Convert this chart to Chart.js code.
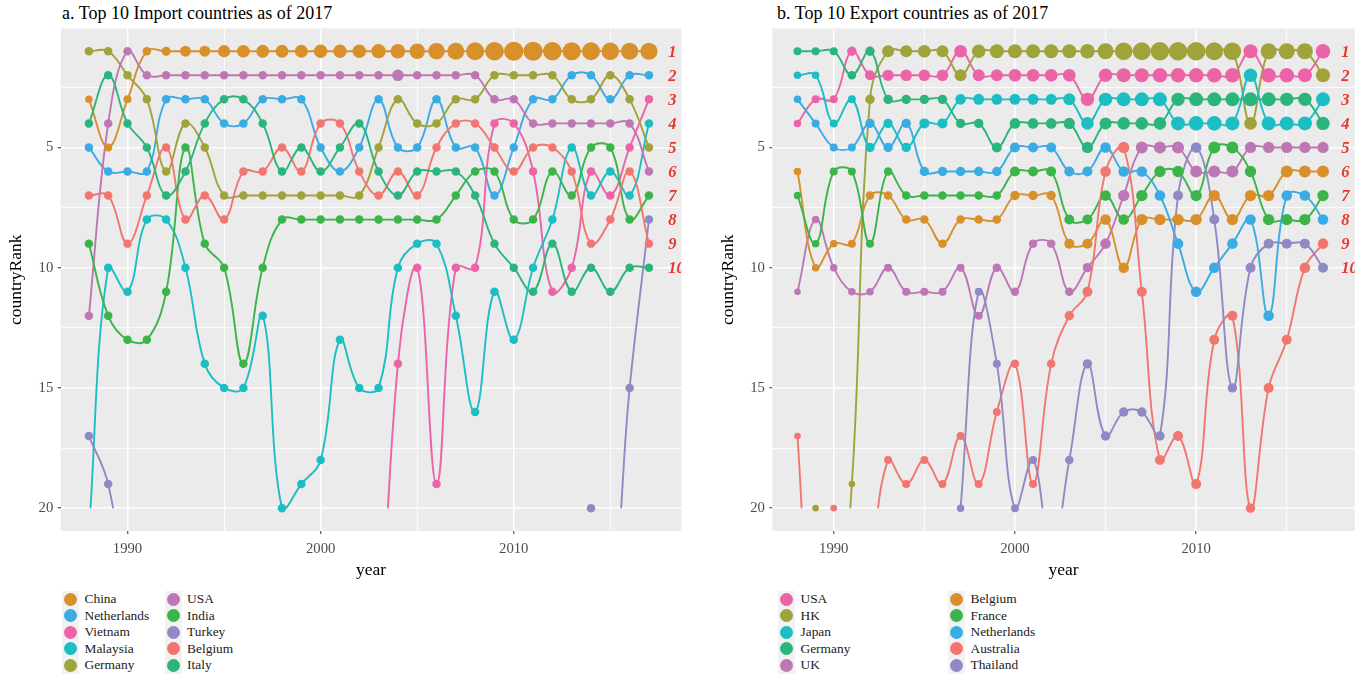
<!DOCTYPE html>
<html>
<head>
<meta charset="utf-8">
<title>Top 10 import and export countries</title>
<script src="https://cdn.jsdelivr.net/npm/chart.js@4.4.1/dist/chart.umd.min.js"></script>
<style>
  html, body { margin: 0; padding: 0; background: #ffffff; }
  body { position: relative; width: 1362px; height: 679px; overflow: hidden;
         font-family: "Liberation Serif", "Times New Roman", serif; }
  canvas { position: absolute; top: 0; }
  .title { position: absolute; top: 4px; font-size: 18px; line-height: 18px; color: #000; white-space: nowrap; }
  .key { position: absolute; width: 17px; height: 17px; background: #F2F2F2; }
  .key span { position: absolute; left: 2px; top: 2px; width: 13px; height: 13px; border-radius: 50%; }
  .lab { position: absolute; height: 18px; line-height: 18px; font-size: 13.4px; color: #1a1a1a; white-space: nowrap; }
</style>
</head>
<body>
<div class="title" style="left:62px">a. Top 10 Import countries as of 2017</div>
<div class="title" style="left:777px">b. Top 10 Export countries as of 2017</div>
<canvas id="imports" width="690" height="590" style="left:0"></canvas>
<canvas id="exports" width="650" height="590" style="left:712px"></canvas>
<div id="legendImports"></div>
<div id="legendExports"></div>

<script>
// ---------- data ----------
const years = [1988, 1989, 1990, 1991, 1992, 1993, 1994, 1995, 1996, 1997,
               1998, 1999, 2000, 2001, 2002, 2003, 2004, 2005, 2006, 2007,
               2008, 2009, 2010, 2011, 2012, 2013, 2014, 2015, 2016, 2017];
const rankTicks = [5, 10, 15, 20];
const yearTicks = [1990, 2000, 2010];
const rankLabels = ['1', '2', '3', '4', '5', '6', '7', '8', '9', '10'];

// import partners: yearly rank (null = far outside the top 20)
const impChina       = [3, 5, 3, 1, 1, 1, 1, 1, 1, 1, 1, 1, 1, 1, 1, 1, 1, 1, 1, 1, 1, 1, 1, 1, 1, 1, 1, 1, 1, 1];
const impNetherlands = [5, 6, 6, 6, 3, 3, 3, 4, 4, 3, 3, 3, 5, 6, 5, 3, 5, 5, 3, 5, 5, 7, 5, 3, 3, 2, 2, 3, 2, 2];
const impVietnam     = [null, null, null, null, null, null, null, null, null, null, null, null, null, null, null,
                        28, 14, 10, 19, 10, 10, 4, 4, 6, 11, 10, 6, 7, 5, 3];
const impMalaysia    = [21, 10, 11, 8, 8, 10, 14, 15, 15, 12, 20, 19, 18, 13, 15, 15, 10, 9, 9, 12, 16, 11, 13, 10, 8, 5, 7, 6, 7, 4];
const impGermany     = [1, 1, 2, 3, 6, 4, 5, 7, 7, 7, 7, 7, 7, 7, 7, 5, 3, 4, 4, 3, 3, 2, 2, 2, 2, 3, 3, 2, 3, 5];
const impUSA         = [12, 4, 1, 2, 2, 2, 2, 2, 2, 2, 2, 2, 2, 2, 2, 2, 2, 2, 2, 2, 2, 3, 3, 4, 4, 4, 4, 4, 4, 6];
const impIndia       = [9, 12, 13, 13, 11, 5, 9, 10, 14, 10, 8, 8, 8, 8, 8, 8, 8, 8, 8, 7, 6, 6, 8, 8, 6, 7, 5, 5, 8, 7];
const impTurkey      = [17, 19, 24, null, null, null, null, null, null, null, null, null, null, null, null,
                        null, null, null, null, null, null, null, null, null, null, 24, 20, 24, 15, 8];
const impBelgium     = [7, 7, 9, 7, 5, 8, 7, 8, 6, 6, 5, 6, 4, 4, 6, 7, 6, 7, 5, 4, 4, 5, 6, 5, 5, 6, 9, 8, 6, 9];
const impItaly       = [4, 2, 4, 5, 7, 6, 4, 3, 3, 4, 6, 5, 6, 5, 4, 6, 7, 6, 6, 6, 7, 9, 10, 11, 9, 11, 10, 11, 10, 10];

// import trade value index (drives point area)
const impChinaValue  = [14, 16, 16, 18, 20, 30, 30, 38, 40, 41, 41, 42, 45, 44, 46, 52, 53, 61, 69, 72, 81, 86, 92, 92, 86, 83, 81, 76, 74, 74];
const impUSAValue    = [18, 18, 18, 18, 18, 18, 18, 18, 18, 18, 18, 18, 18, 18, 18, 18, 34, 18, 18, 18, 18, 18, 18, 18, 18, 18, 18, 18, 18, 18];
const impOtherValue  = 18;

// export partners: yearly rank
const expUSA         = [4, 3, 3, 1, 2, 2, 2, 2, 2, 1, 2, 2, 2, 2, 2, 2, 3, 2, 2, 2, 2, 2, 2, 2, 2, 1, 2, 2, 2, 1];
const expHK          = [26, 20, 26, 19, 3, 1, 1, 1, 1, 2, 1, 1, 1, 1, 1, 1, 1, 1, 1, 1, 1, 1, 1, 1, 1, 4, 1, 1, 1, 2];
const expJapan       = [2, 2, 4, 3, 5, 4, 5, 4, 4, 3, 3, 3, 3, 3, 3, 3, 4, 3, 3, 3, 3, 4, 4, 4, 4, 2, 4, 4, 4, 3];
const expGermany     = [1, 1, 1, 2, 1, 3, 3, 3, 3, 4, 4, 5, 4, 4, 4, 4, 5, 4, 4, 4, 4, 3, 3, 3, 3, 3, 3, 3, 3, 4];
const expUK          = [11, 8, 10, 11, 11, 10, 11, 11, 11, 10, 12, 10, 11, 9, 9, 11, 10, 9, 7, 5, 5, 5, 6, 6, 6, 5, 5, 5, 5, 5];
const expBelgium     = [6, 10, 9, 9, 7, 7, 8, 8, 9, 8, 8, 8, 7, 7, 7, 9, 9, 8, 10, 8, 8, 8, 8, 7, 8, 7, 7, 6, 6, 6];
const expFrance      = [7, 9, 6, 6, 9, 6, 7, 7, 7, 7, 7, 7, 6, 6, 6, 8, 8, 7, 8, 7, 6, 6, 7, 5, 5, 6, 8, 8, 8, 7];
const expNetherlands = [3, 4, 5, 5, 4, 5, 4, 6, 6, 6, 6, 6, 5, 5, 5, 6, 6, 5, 6, 6, 7, 9, 11, 10, 9, 8, 12, 7, 7, 8];
const expAustralia   = [17, 28, 20, 28, 23, 18, 19, 18, 19, 17, 19, 16, 14, 19, 14, 12, 11, 6, 5, 11, 18, 17, 19, 13, 12, 20, 15, 13, 10, 9];
const expThailand    = [null, null, null, null, null, null, null, null, null,
                        20, 11, 14, 20, 18, 22, 18, 14, 17, 16, 16, 17, 7, 5, 8, 15, 10, 9, 9, 9, 10];

// export trade value index (drives point area)
const expUSAValue         = [14, 16, 16, 22, 25, 32, 34, 34, 34, 40, 36, 36, 40, 40, 40, 40, 45, 45, 49, 49, 53, 53, 53, 53, 53, 49, 53, 53, 49, 53];
const expHKValue          = [11, 11, 11, 11, 22, 36, 36, 40, 36, 36, 45, 49, 49, 49, 49, 49, 53, 64, 76, 81, 86, 86, 86, 81, 76, 40, 64, 64, 64, 49];
const expJapanValue       = [14, 14, 16, 16, 22, 22, 22, 25, 25, 28, 30, 30, 30, 30, 30, 36, 40, 45, 49, 49, 49, 49, 53, 53, 49, 45, 49, 49, 49, 49];
const expGermanyValue     = [16, 16, 16, 18, 22, 22, 22, 22, 22, 22, 22, 25, 28, 28, 28, 32, 32, 36, 40, 40, 40, 45, 49, 49, 49, 49, 49, 45, 45, 45];
const expUKValue          = [11, 14, 14, 14, 14, 16, 16, 16, 16, 16, 16, 18, 18, 18, 18, 18, 22, 28, 32, 36, 36, 36, 36, 36, 36, 32, 32, 32, 32, 32];
const expBelgiumValue     = [14, 14, 14, 16, 18, 18, 18, 18, 18, 18, 18, 18, 22, 22, 22, 25, 25, 28, 28, 32, 32, 32, 32, 32, 32, 32, 32, 36, 36, 36];
const expFranceValue      = [14, 14, 16, 16, 16, 18, 18, 18, 18, 18, 18, 18, 25, 25, 25, 25, 25, 28, 28, 32, 32, 32, 32, 36, 36, 32, 32, 32, 32, 32];
const expNetherlandsValue = [14, 16, 16, 16, 22, 22, 22, 22, 22, 22, 22, 22, 25, 25, 25, 25, 25, 28, 28, 28, 28, 28, 28, 28, 28, 28, 28, 28, 28, 28];
const expAustraliaValue   = [11, 11, 11, 11, 11, 16, 16, 16, 16, 16, 16, 16, 18, 16, 18, 22, 25, 28, 32, 25, 25, 25, 25, 25, 25, 22, 25, 25, 28, 28];
const expThailandValue    = [null, null, null, null, null, null, null, null, null,
                             14, 16, 16, 16, 16, 16, 18, 22, 22, 22, 22, 22, 25, 28, 25, 22, 25, 25, 25, 25, 25];

// ---------- styling ----------
const SERIF = '"Liberation Serif", "Times New Roman", serif';
const LAST_RANK = 20;
const TAG_YEAR = 2018;
const TAG_RED = '#E8372E';
const PANEL_BG = '#EBEBEB';

const C = {
  orange: '#D8902B', blue: '#3BABE4', pink: '#EB64A7', cyan: '#1CBDC3', olive: '#A0A23A',
  purple: '#BE77B5', green: '#3BB44A', lavender: '#8E8AC6', salmon: '#F27670', teal: '#2BB57D'
};

const importSeries = [
  { name: 'China',       ranks: impChina,       value: impChinaValue, color: C.orange },
  { name: 'Netherlands', ranks: impNetherlands, value: null,          color: C.blue },
  { name: 'Vietnam',     ranks: impVietnam,     value: null,          color: C.pink },
  { name: 'Malaysia',    ranks: impMalaysia,    value: null,          color: C.cyan },
  { name: 'Germany',     ranks: impGermany,     value: null,          color: C.olive },
  { name: 'USA',         ranks: impUSA,         value: impUSAValue,   color: C.purple },
  { name: 'India',       ranks: impIndia,       value: null,          color: C.green },
  { name: 'Turkey',      ranks: impTurkey,      value: null,          color: C.lavender },
  { name: 'Belgium',     ranks: impBelgium,     value: null,          color: C.salmon },
  { name: 'Italy',       ranks: impItaly,       value: null,          color: C.teal }
];

const exportSeries = [
  { name: 'USA',         ranks: expUSA,         value: expUSAValue,         color: C.pink },
  { name: 'HK',          ranks: expHK,          value: expHKValue,          color: C.olive },
  { name: 'Japan',       ranks: expJapan,       value: expJapanValue,       color: C.cyan },
  { name: 'Germany',     ranks: expGermany,     value: expGermanyValue,     color: C.teal },
  { name: 'UK',          ranks: expUK,          value: expUKValue,          color: C.purple },
  { name: 'Belgium',     ranks: expBelgium,     value: expBelgiumValue,     color: C.orange },
  { name: 'France',      ranks: expFrance,      value: expFranceValue,      color: C.green },
  { name: 'Netherlands', ranks: expNetherlands, value: expNetherlandsValue, color: C.blue },
  { name: 'Australia',   ranks: expAustralia,   value: expAustraliaValue,   color: C.salmon },
  { name: 'Thailand',    ranks: expThailand,    value: expThailandValue,    color: C.lavender }
];

// ---------- plugins ----------
// grey panel background behind grid and marks
const panelBackground = {
  id: 'panelBackground',
  beforeDraw(chart) {
    const { ctx, chartArea: a } = chart;
    ctx.save();
    ctx.fillStyle = PANEL_BG;
    ctx.fillRect(a.left, a.top, a.right - a.left, a.bottom - a.top);
    ctx.restore();
  }
};

// lines are cut off at the last shown rank
const rankClip = {
  id: 'rankClip',
  beforeDatasetDraw(chart, args) {
    if (!chart.data.datasets[args.index].lineOnly) return;
    const { ctx, chartArea: a } = chart;
    const yLimit = chart.scales.y.getPixelForValue(LAST_RANK);
    ctx.save();
    ctx.beginPath();
    ctx.rect(a.left, a.top, a.right - a.left, yLimit - a.top);
    ctx.clip();
  },
  afterDatasetDraw(chart, args) {
    if (chart.data.datasets[args.index].lineOnly) chart.ctx.restore();
  }
};

// red rank numbers down the right edge of the panel
const rankTags = {
  id: 'rankTags',
  afterDatasetsDraw(chart) {
    const { ctx, chartArea: a, scales: { x, y } } = chart;
    ctx.save();
    ctx.beginPath();
    ctx.rect(a.left, a.top, a.right - a.left, a.bottom - a.top);
    ctx.clip();
    ctx.fillStyle = TAG_RED;
    ctx.font = 'italic bold 16.5px ' + SERIF;
    ctx.textAlign = 'left';
    ctx.textBaseline = 'middle';
    rankLabels.forEach((t, i) => {
      ctx.fillText(t, x.getPixelForValue(TAG_YEAR), y.getPixelForValue(i + 1) + 1);
    });
    ctx.restore();
  }
};

// ---------- chart builder ----------
function pointRadius(values, fallback) {
  return ctx => {
    const v = values ? values[ctx.dataIndex] : fallback;
    return Math.sqrt(v == null ? fallback : v);
  };
}

function buildDatasets(series, fallbackValue) {
  const sets = [];
  series.forEach((s, i) => {
    sets.push({
      label: s.name,
      lineOnly: true,
      data: years.map((yr, k) => ({ x: yr, y: s.ranks[k] })),
      borderColor: s.color,
      borderWidth: 1.9,
      pointRadius: 0,
      tension: 0.4,
      fill: false,
      order: 100 - i
    });
    sets.push({
      label: s.name,
      data: years.map((yr, k) => ({ x: yr, y: (s.ranks[k] != null && s.ranks[k] <= LAST_RANK) ? s.ranks[k] : null })),
      showLine: false,
      pointRadius: pointRadius(s.value, fallbackValue),
      pointBackgroundColor: s.color,
      pointBorderWidth: 0,
      order: 50 - i
    });
  });
  return sets;
}

function gridStyle(isMajor) {
  return {
    color: '#FFFFFF',
    lineWidth: c => (c.tick && isMajor(c.tick.value)) ? 1.5 : 0.8,
    tickLength: 3,
    tickWidth: 1,
    tickColor: c => (c.tick && isMajor(c.tick.value)) ? '#333333' : 'rgba(0,0,0,0)'
  };
}

function buildChart(canvasId, series, geom, fallbackValue) {
  const xMajor = v => yearTicks.includes(v);
  const yMajor = v => rankTicks.includes(v);
  return new Chart(document.getElementById(canvasId), {
    type: 'line',
    data: { datasets: buildDatasets(series, fallbackValue) },
    options: {
      responsive: false,
      animation: false,
      events: [],
      spanGaps: false,
      layout: { padding: { left: 0, top: geom.top, right: geom.right, bottom: 0 } },
      elements: { line: { capBezierPoints: false } },
      plugins: { legend: { display: false }, tooltip: { enabled: false }, title: { display: false } },
      scales: {
        x: {
          type: 'linear',
          min: geom.xMin,
          max: geom.xMax,
          afterFit: s => { s.height = geom.xAxisHeight; },
          border: { display: false },
          grid: gridStyle(xMajor),
          ticks: {
            stepSize: 5, includeBounds: false, autoSkip: false, maxRotation: 0,
            padding: 6, color: '#4D4D4D', font: { family: SERIF, size: 14.7 },
            callback: v => xMajor(v) ? String(v) : ''
          },
          title: { display: true, text: 'year', color: '#000', font: { family: SERIF, size: 17.5 },
                   padding: { top: 0, bottom: 9 } }
        },
        y: {
          type: 'linear',
          reverse: true,
          min: 0.05,
          max: 20.95,
          afterFit: s => { s.width = geom.yAxisWidth; },
          border: { display: false },
          grid: gridStyle(yMajor),
          ticks: {
            stepSize: 2.5, includeBounds: false, autoSkip: false,
            padding: 4.4, color: '#4D4D4D', font: { family: SERIF, size: 14.7 },
            callback: v => yMajor(v) ? String(v) : ''
          },
          title: { display: true, text: 'countryRank', color: '#000', font: { family: SERIF, size: 17.5 },
                   padding: { top: 6, bottom: 0 } }
        }
      }
    },
    plugins: [panelBackground, rankClip, rankTags]
  });
}

// ---------- legends ----------
function buildLegend(id, series, keyCenters) {
  const el = document.getElementById(id);
  const top = 599, step = 16.6;
  series.forEach((s, i) => {
    const cx = keyCenters[Math.floor(i / 5)];
    const cy = top + (i % 5) * step;
    const key = document.createElement('div');
    key.className = 'key';
    key.style.left = (cx - 8.5) + 'px';
    key.style.top = (cy - 8.5) + 'px';
    const dot = document.createElement('span');
    dot.style.background = s.color;
    key.appendChild(dot);
    const lab = document.createElement('div');
    lab.className = 'lab';
    lab.style.left = (cx + 13.8) + 'px';
    lab.style.top = (cy - 9) + 'px';
    lab.textContent = s.name;
    el.appendChild(key);
    el.appendChild(lab);
  });
}

buildChart('imports', importSeries,
  { top: 28.4, right: 7.3, yAxisWidth: 60.7, xAxisHeight: 59, xMin: 1986.54, xMax: 2018.68 }, impOtherValue);
buildChart('exports', exportSeries,
  { top: 28.4, right: 0.6, yAxisWidth: 60.3, xAxisHeight: 59, xMin: 1986.61, xMax: 2018.75 }, 16);

buildLegend('legendImports', importSeries, [70.7, 173.3]);
buildLegend('legendExports', exportSeries, [786.7, 956.7]);
</script>
</body>
</html>
